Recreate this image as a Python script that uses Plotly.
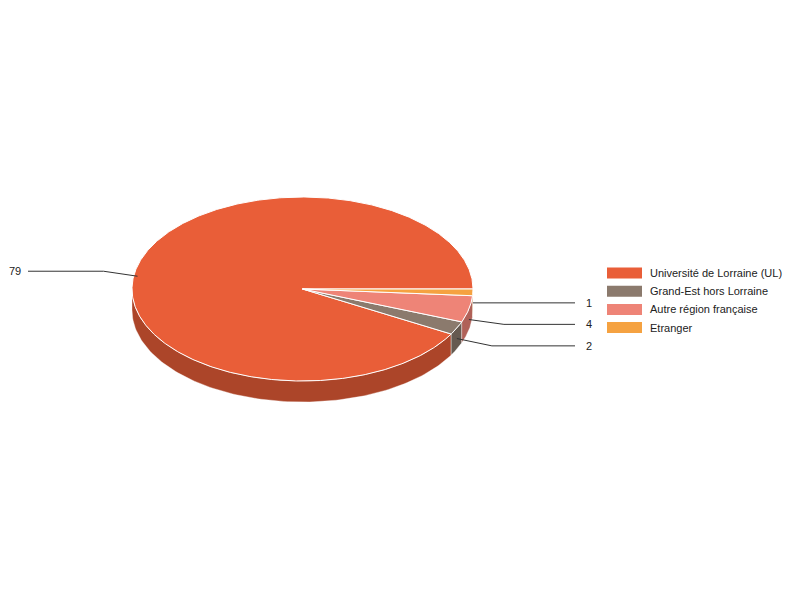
import numpy as np
import plotly.graph_objects as go

# Data
categories = ["Université de Lorraine (UL)", "Grand-Est hors Lorraine",
              "Autre région française", "Etranger"]
counts = [79, 2, 4, 1]
colors = ["#e95e38", "#8b7a6d", "#ee8477", "#f5a241"]

# Pie geometry (pixels, 800x600 canvas)
CX, CY = 302.5, 289.0
RX, RY = 170.5, 92.0
DEPTH = 21.0
SIDE_SHADE = 0.74


def darker(hex_color, f):
    r, g, b = (int(hex_color[i:i + 2], 16) for i in (1, 3, 5))
    return "rgb(%d,%d,%d)" % (r * f, g * f, b * f)


def ell(t_deg, dy=0.0):
    t = np.radians(t_deg)
    return CX + RX * np.cos(t), CY - RY * np.sin(t) + dy


fig = go.Figure()

vals = np.array(counts, dtype=float)
ends = np.cumsum(vals) / vals.sum() * 360.0
starts = np.concatenate([[0.0], ends[:-1]])

# Side walls (front half only: 180..360 degrees)
for a0, a1, col in zip(starts, ends, colors):
    lo, hi = max(a0, 180.0), min(a1, 360.0)
    if hi <= lo:
        continue
    t = np.linspace(lo, hi, 120)
    xt, yt = ell(t)
    xb, yb = ell(t[::-1], DEPTH)
    fig.add_trace(go.Scatter(
        x=np.concatenate([xt, xb, xt[:1]]),
        y=np.concatenate([yt, yb, yt[:1]]),
        mode="lines", fill="toself", fillcolor=darker(col, SIDE_SHADE),
        line=dict(color="rgba(255,255,255,0.6)", width=0.6),
        showlegend=False, hoverinfo="skip"))

# Top faces
for a0, a1, col, name in zip(starts, ends, colors, categories):
    t = np.linspace(a0, a1, max(int((a1 - a0) * 2), 8))
    xa, ya = ell(t)
    fig.add_trace(go.Scatter(
        x=np.concatenate([[CX], xa, [CX]]),
        y=np.concatenate([[CY], ya, [CY]]),
        mode="lines", fill="toself", fillcolor=col,
        line=dict(color="white", width=1),
        name=name, showlegend=False, hoverinfo="name"))

# Leader lines and value labels
mids = (starts + ends) / 2
anchors = [ell(m, DEPTH / 2) for m in mids]
right = sorted([i for i, m in enumerate(mids) if np.cos(np.radians(m)) >= 0],
               key=lambda i: anchors[i][1])
label_y = {}
prev = -1e9
for i in right:
    y = max(anchors[i][1], prev + 21.5)
    label_y[i] = y
    prev = y
for i, m in enumerate(mids):
    if i not in label_y:
        label_y[i] = anchors[i][1] - 5

annotations = []
for i, (ax, ay) in enumerate(anchors):
    ly = label_y[i]
    if i in right:
        xs = [ax, ax + 35, 575]
        tx, anchor = 584, "left"
    else:
        xs = [ax, ax - 34, 28]
        tx, anchor = 23, "right"
    fig.add_trace(go.Scatter(
        x=xs, y=[ay, ly, ly], mode="lines",
        line=dict(color="#333333", width=1),
        showlegend=False, hoverinfo="skip"))
    annotations.append(dict(
        x=tx, y=ly, xref="x", yref="y", text=str(counts[i]),
        showarrow=False, xanchor=anchor, yanchor="middle",
        font=dict(size=11, color="#222222")))

# Legend
shapes = []
for k, (name, col) in enumerate(zip(categories, colors)):
    yc = 273 + k * 18.2
    shapes.append(dict(type="rect", xref="x", yref="y",
                       x0=607, x1=642, y0=yc - 5.5, y1=yc + 5.5,
                       fillcolor=col, line=dict(width=0)))
    annotations.append(dict(
        x=648, y=yc, xref="x", yref="y", text=name, showarrow=False,
        xanchor="left", yanchor="middle",
        font=dict(size=11, color="#222222")))

fig.update_layout(
    width=800, height=600,
    margin=dict(l=0, r=0, t=0, b=0),
    paper_bgcolor="white", plot_bgcolor="white",
    font=dict(family="Arial, Liberation Sans, sans-serif"),
    xaxis=dict(range=[0, 800], visible=False, fixedrange=True),
    yaxis=dict(range=[600, 0], visible=False, fixedrange=True),
    shapes=shapes, annotations=annotations, showlegend=False)

fig.write_html("out.html", config={"displayModeBar": False},
               post_script="document.body.style.margin='0';")
